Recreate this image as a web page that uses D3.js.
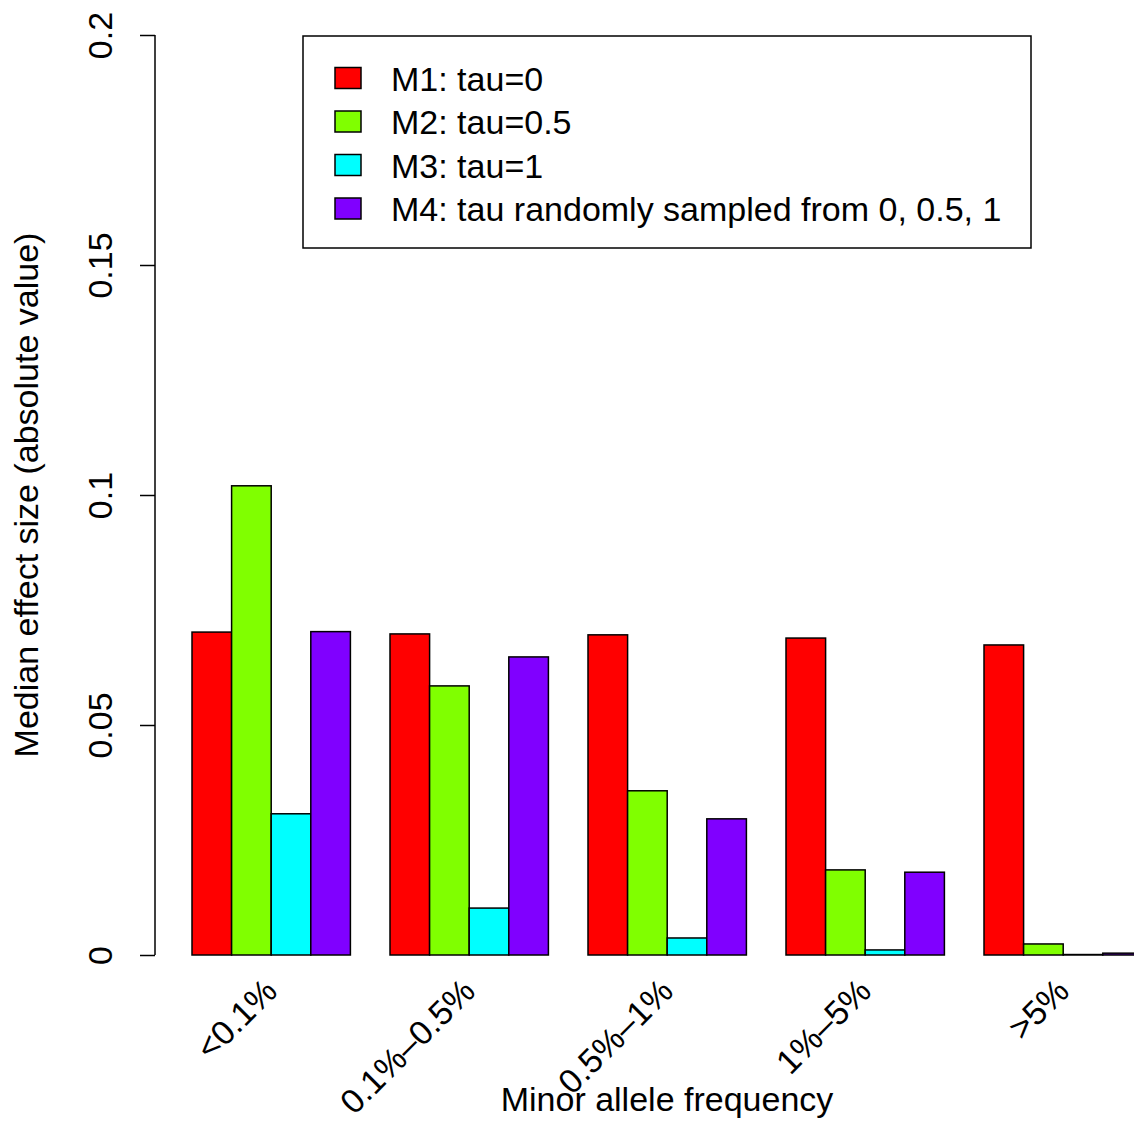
<!DOCTYPE html>
<html>
<head>
<meta charset="utf-8">
<script src="https://cdn.jsdelivr.net/npm/d3@7"></script>
<style>
  body { margin: 0; background: #fff; }
  svg text { font-family: "Liberation Sans", Arial, Helvetica, sans-serif; fill: #000; }
</style>
</head>
<body>
<svg id="chart" width="1134" height="1121"></svg>
<script>
// data
var categories = ['<0.1%', '0.1%\u20130.5%', '0.5%\u20131%', '1%\u20135%', '>5%'];
var seriesNames = ['M1: tau=0', 'M2: tau=0.5', 'M3: tau=1', 'M4: tau randomly sampled from 0, 0.5, 1'];
var seriesColors = ['#FF0000', '#80FF00', '#00FFFF', '#8000FF'];
var m1 = [0.0702, 0.0698, 0.0696, 0.0689, 0.0674];
var m2 = [0.1020, 0.0585, 0.0357, 0.0185, 0.0024];
var m3 = [0.0307, 0.0102, 0.0037, 0.0011, 0.0001];
var m4 = [0.0703, 0.0648, 0.0296, 0.0180, 0.0004];
var yTicks = [0, 0.05, 0.1, 0.15, 0.2];
var yTickLabels = ['0', '0.05', '0.1', '0.15', '0.2'];

var series = [m1, m2, m3, m4];
var fontSize = 34;

// layout
var svg = d3.select('#chart');
var axisX = 155;
var y = d3.scaleLinear().domain([0, 0.2]).range([955, 35]);
var x0 = d3.scaleBand()
	.domain(categories)
	.range([192, 1142.4])
	.paddingInner(0.2)
	.paddingOuter(0);
var x1 = d3.scaleBand()
	.domain(d3.range(series.length))
	.range([0, x0.bandwidth()]);

// bars
var groups = svg.append('g').selectAll('g')
	.data(categories)
	.enter().append('g')
	.attr('transform', function(d) { return 'translate(' + x0(d) + ',0)'; });

groups.selectAll('rect')
	.data(function(d, i) {
		return series.map(function(s, j) { return { s: j, v: s[i] }; });
	})
	.enter().append('rect')
	.attr('x', function(d) { return x1(d.s); })
	.attr('width', x1.bandwidth())
	.attr('y', function(d) { return y(d.v); })
	.attr('height', function(d) { return y(0) - y(d.v); })
	.attr('fill', function(d) { return seriesColors[d.s]; })
	.attr('stroke', '#000')
	.attr('stroke-width', 1.5);

// y axis
var yAxis = d3.axisLeft(y)
	.tickValues(yTicks)
	.tickFormat(function(d, i) { return yTickLabels[i]; })
	.tickSize(15)
	.tickPadding(0);
var yg = svg.append('g')
	.attr('transform', 'translate(' + axisX + ',0)')
	.call(yAxis);
yg.select('.domain').attr('d', 'M0,' + y(0) + 'V' + y(0.2)).attr('stroke', '#000').attr('stroke-width', 1.5);
yg.selectAll('.tick line').attr('stroke', '#000').attr('stroke-width', 1.5);
yg.selectAll('.tick text')
	.attr('font-size', fontSize)
	.attr('text-anchor', 'middle')
	.attr('x', null)
	.attr('transform', 'translate(-43,0) rotate(-90)')
	.attr('dy', 0);

// x labels
svg.append('g').selectAll('text')
	.data(categories)
	.enter().append('text')
	.attr('font-size', fontSize)
	.attr('text-anchor', 'end')
	.attr('transform', function(d) {
		var cx = x0(d) + x0.bandwidth() / 2 + 8;
		return 'translate(' + cx + ',993) rotate(-45)';
	})
	.text(function(d) { return d; });

// axis titles
svg.append('text')
	.attr('x', 667).attr('y', 1111)
	.attr('text-anchor', 'middle')
	.attr('font-size', fontSize)
	.text('Minor allele frequency');

svg.append('text')
	.attr('transform', 'translate(38,495) rotate(-90)')
	.attr('text-anchor', 'middle')
	.attr('font-size', fontSize)
	.text('Median effect size (absolute value)');

// legend
var legend = svg.append('g');
legend.append('rect')
	.attr('x', 303).attr('y', 36)
	.attr('width', 728).attr('height', 212)
	.attr('fill', '#fff')
	.attr('stroke', '#000')
	.attr('stroke-width', 1.5);
var rows = legend.selectAll('g.row')
	.data(seriesNames)
	.enter().append('g')
	.attr('class', 'row')
	.attr('transform', function(d, i) { return 'translate(0,' + (78.5 + i * 43.5) + ')'; });
rows.append('rect')
	.attr('x', 335).attr('y', -11)
	.attr('width', 26).attr('height', 21)
	.attr('fill', function(d, i) { return seriesColors[i]; })
	.attr('stroke', '#000')
	.attr('stroke-width', 1.5);
rows.append('text')
	.attr('x', 391).attr('y', 12)
	.attr('font-size', fontSize)
	.text(function(d) { return d; });
</script>
</body>
</html>
